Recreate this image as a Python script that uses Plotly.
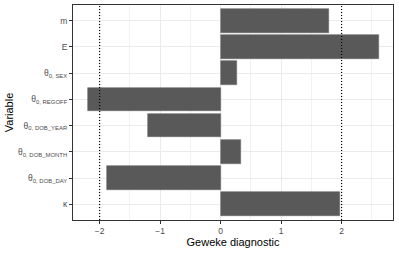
import plotly.graph_objects as go

variables = ["m", "E", "θ<sub>0, SEX</sub>", "θ<sub>0, REGOFF</sub>", "θ<sub>0, DOB_YEAR</sub>",
             "θ<sub>0, DOB_MONTH</sub>", "θ<sub>0, DOB_DAY</sub>", "κ"]
geweke = [1.80, 2.62, 0.27, -2.20, -1.20, 0.33, -1.87, 1.97]
thresholds = [-2, 2]
x_ticks = [-2, -1, 0, 1, 2]

fig = go.Figure()
fig.add_trace(go.Bar(
    x=geweke, y=variables, orientation="h", width=0.9,
    marker=dict(color="#595959", line=dict(color="#6a6a6a", width=0.6)),
    hoverinfo="skip",
))
for t in thresholds:
    fig.add_shape(type="line", x0=t, x1=t, y0=0, y1=1, xref="x", yref="paper",
                  line=dict(color="black", width=1.2, dash="1px,2px"))

fig.update_layout(
    width=399, height=253,
    margin=dict(l=73, r=6, t=5, b=33, autoexpand=False),
    paper_bgcolor="white", plot_bgcolor="white",
    font=dict(family="Liberation Sans, Arial, sans-serif", color="#4d4d4d"),
    showlegend=False,
    bargap=0,
)
fig.update_xaxes(
    range=[-2.44, 2.85], tickvals=x_ticks, ticktext=["−2", "−1", "0", "1", "2"],
    ticks="outside", ticklen=3, tickcolor="#333333", tickwidth=1,
    tickfont=dict(size=8.5, color="#4d4d4d"),
    showgrid=True, gridcolor="#ebebeb", gridwidth=1,
    minor=dict(dtick=0.5, tick0=0, showgrid=True, gridcolor="#f2f2f2", gridwidth=0.5),
    zeroline=False, automargin=False,
    showline=True, mirror=True, linecolor="#333333", linewidth=1,
    title=dict(text="Geweke diagnostic", font=dict(size=11, color="black"), standoff=2),
)
fig.update_yaxes(
    range=[7.6, -0.6], type="category",
    ticks="outside", ticklen=3, tickcolor="#333333", tickwidth=1,
    tickfont=dict(size=8.5, color="#4d4d4d"),
    showgrid=True, gridcolor="#ebebeb", gridwidth=1,
    zeroline=False, automargin=False,
    showline=True, mirror=True, linecolor="#333333", linewidth=1,
    title=dict(text="Variable", font=dict(size=11, color="black"), standoff=2),
)
fig.write_html("out.html", config={"displayModeBar": False},
               post_script="document.body.style.margin='0';")
